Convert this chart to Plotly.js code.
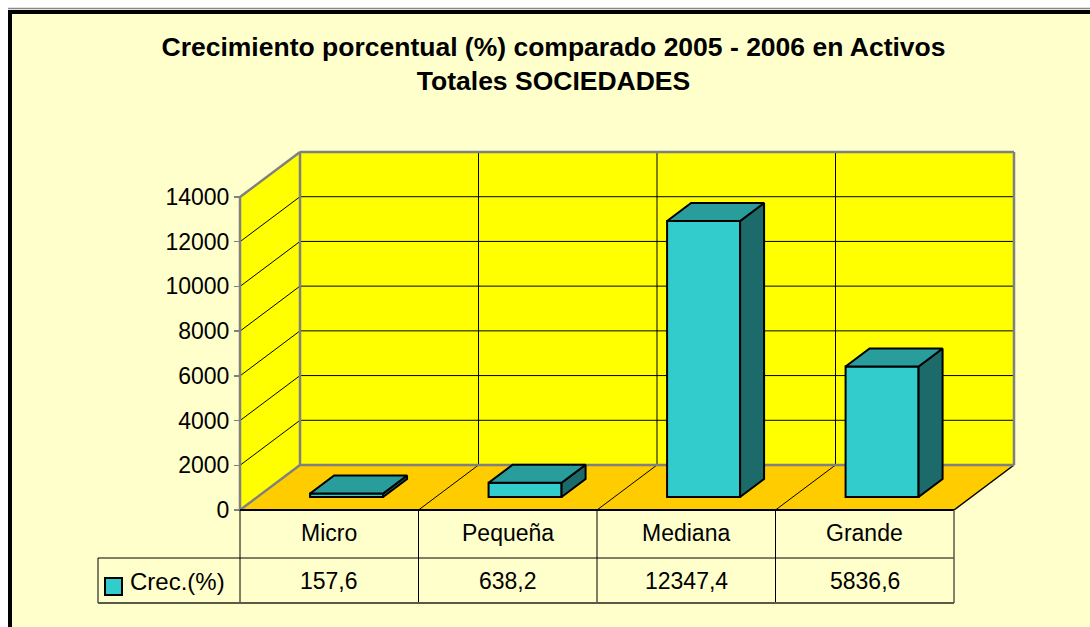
<!DOCTYPE html>
<html>
<head>
<meta charset="utf-8">
<script src="https://cdn.plot.ly/plotly-3.0.1.min.js"></script>
<style>html,body{margin:0;padding:0;background:#fff;}#chart{width:1090px;height:627px;}</style>
</head>
<body>
<div id="chart"></div>
<script>
// ---- data ----
const categories = ['Micro', 'Pequeña', 'Mediana', 'Grande'];
const values = [157.6, 638.2, 12347.4, 5836.6];
const seriesName = 'Crec.(%)';
const yTicks = [0, 2000, 4000, 6000, 8000, 10000, 12000, 14000];
const chartTitle = 'Crecimiento porcentual (%) comparado 2005 - 2006 en Activos<br>Totales SOCIEDADES';

// ---- geometry (pixel layout of the oblique 3D frame) ----
const W = 1090, H = 627;
const X0PX = 240, CATPX = 178.5;           // front-left corner, category width
const Y0PX = 510;                           // front zero line
const YMAX = 14000;
const K = 313 / YMAX;                       // px per value unit
const toX = px => (px - X0PX) / CATPX;
const toY = py => (Y0PX - py) / K;
const DX = 60 / CATPX;                      // depth offset in x units
const DY = 45 / K;                          // depth offset in y units
const N = categories.length;
const F0 = 13 / 45, FD = 18 / 45;           // bar front depth, bar depth
const BW = 73 / CATPX;                      // bar width

const FONT = 'Liberation Sans, Arial, sans-serif';
const GRAY = '#808080';

const shapes = [];
// outer frame
shapes.push({type:'rect', xref:'paper', yref:'paper', x0:10/W, y0:1-12/H, x1:1.2, y1:-0.2,
  fillcolor:'#FFFFCC', line:{color:'#000', width:4}, layer:'below'});
shapes.push({type:'line', xref:'paper', yref:'paper', x0:8/W, x1:1, y0:1-8.5/H, y1:1-8.5/H,
  line:{color:'#888', width:1.5}, layer:'below'});

function ln(x0,y0,x1,y1,color,width,layer){
  shapes.push({type:'line', xref:'x', yref:'y', x0, y0, x1, y1, line:{color, width}, layer: layer||'below'});
}
// walls & floor
shapes.push({type:'path', xref:'x', yref:'y', layer:'below', fillcolor:'#FFFF00', line:{width:0},
  path:`M0,0 L0,${YMAX} L${DX},${YMAX+DY} L${DX},${DY} Z`});
shapes.push({type:'rect', xref:'x', yref:'y', layer:'below', fillcolor:'#FFFF00', line:{width:0},
  x0:DX, y0:DY, x1:N+DX, y1:YMAX+DY});
shapes.push({type:'path', xref:'x', yref:'y', layer:'below', fillcolor:'#FFCC00', line:{width:0},
  path:`M0,0 L${N},0 L${N+DX},${DY} L${DX},${DY} Z`});
// gridlines
yTicks.forEach(v => {
  if (v > 0 && v < YMAX) {
    ln(DX, v+DY, N+DX, v+DY, '#000', 1);
    ln(0, v, DX, v+DY, '#000', 1);
  }
});
for (let i = 1; i < N; i++) {
  ln(i+DX, DY, i+DX, YMAX+DY, '#000', 1);
  ln(i, 0, i+DX, DY, '#000', 1);
}
ln(N, 0, N+DX, DY, '#000', 1.5);
// wall borders
ln(DX, YMAX+DY, N+DX, YMAX+DY, GRAY, 2.5);
ln(N+DX, DY, N+DX, YMAX+DY, GRAY, 2.5);
ln(DX, DY, N+DX, DY, GRAY, 2.5);
ln(DX, DY, DX, YMAX+DY, GRAY, 2.5);
ln(0, YMAX, DX, YMAX+DY, GRAY, 2.5);
ln(0, 0, 0, YMAX, GRAY, 2.5);
ln(0, 0, DX, DY, GRAY, 2.5);
ln(0, 0, N, 0, '#000', 2);

// data table
const rowMid = toY(558), rowBot = toY(603), legL = toX(98);
ln(legL, rowMid, N, rowMid, '#000', 1, 'above');
for (let i = 0; i < N; i++) ln(i, 0, i, rowBot, '#000', 1, 'above');
ln(legL, rowMid, legL, rowBot, '#000', 1, 'above');
ln(legL, rowBot, N, rowBot, '#5a5a4a', 2, 'above');
ln(N, 0, N, rowBot, '#5a5a4a', 1.5, 'above');
shapes.push({type:'rect', xref:'x', yref:'y', layer:'above', x0:toX(105), x1:toX(122), y0:toY(578), y1:toY(595),
  fillcolor:'#33CCCC', line:{color:'#000', width:2}});

const annotations = [];
categories.forEach((c, i) => {
  annotations.push({x:i+0.5, y:toY(533), xref:'x', yref:'y', text:c, showarrow:false,
    xanchor:'center', yanchor:'middle', font:{family:FONT, size:23, color:'#000'}});
  annotations.push({x:i+0.5, y:toY(581), xref:'x', yref:'y', text:values[i].toFixed(1).replace('.', ','), showarrow:false,
    xanchor:'center', yanchor:'middle', font:{family:FONT, size:23, color:'#000'}});
});
annotations.push({x:toX(128), y:toY(581), xref:'x', yref:'y', text:seriesName, showarrow:false,
  xanchor:'left', yanchor:'middle', font:{family:FONT, size:24, color:'#000'}});

// ---- traces ----
const barX = categories.map((c, i) => i + 0.5 + F0*DX);
const base = F0*DY;
const traces = [{
  type:'bar', x:barX, y:values, base:base, width:BW, name:seriesName,
  marker:{color:'#33CCCC', line:{color:'#000', width:2}}, hoverinfo:'skip', showlegend:false
}];
const bx = FD*DX, by = FD*DY;
values.forEach((v, i) => {
  const xl = barX[i] - BW/2, xr = barX[i] + BW/2, yb = base, yt = base + v;
  traces.push({type:'scatter', mode:'lines', fill:'toself', fillcolor:'#1C6A6A',
    x:[xr, xr+bx, xr+bx, xr, xr], y:[yb, yb+by, yt+by, yt, yb],
    line:{color:'#000', width:2}, hoverinfo:'skip', showlegend:false});
  traces.push({type:'scatter', mode:'lines', fill:'toself', fillcolor:'#299C9C',
    x:[xl, xr, xr+bx, xl+bx, xl], y:[yt, yt, yt+by, yt+by, yt],
    line:{color:'#000', width:2}, hoverinfo:'skip', showlegend:false});
});

const layout = {
  width:W, height:H, autosize:false,
  margin:{l:0, r:0, t:0, b:0, pad:0},
  paper_bgcolor:'#ffffff', plot_bgcolor:'rgba(0,0,0,0)',
  showlegend:false,
  title:{text:chartTitle, x:553.5/W, xanchor:'center', xref:'paper', y:1-56/H, yanchor:'top', yref:'container',
    font:{family:FONT, size:26.5, color:'#000', weight:'bold'}},
  xaxis:{range:[toX(0), toX(W)], visible:false, fixedrange:true, domain:[0,1]},
  yaxis:{range:[toY(H), toY(0)], domain:[0,1], anchor:'free', position:X0PX/W,
    showgrid:false, zeroline:false, showline:false,
    tickvals:yTicks, ticktext:yTicks.map(String), ticks:'outside', ticklen:6, tickwidth:1.5, tickcolor:GRAY,
    tickfont:{family:FONT, size:23, color:'#000'}, fixedrange:true},
  shapes, annotations
};
Plotly.newPlot('chart', traces, layout, {staticPlot:true, displayModeBar:false});
</script>
</body>
</html>
